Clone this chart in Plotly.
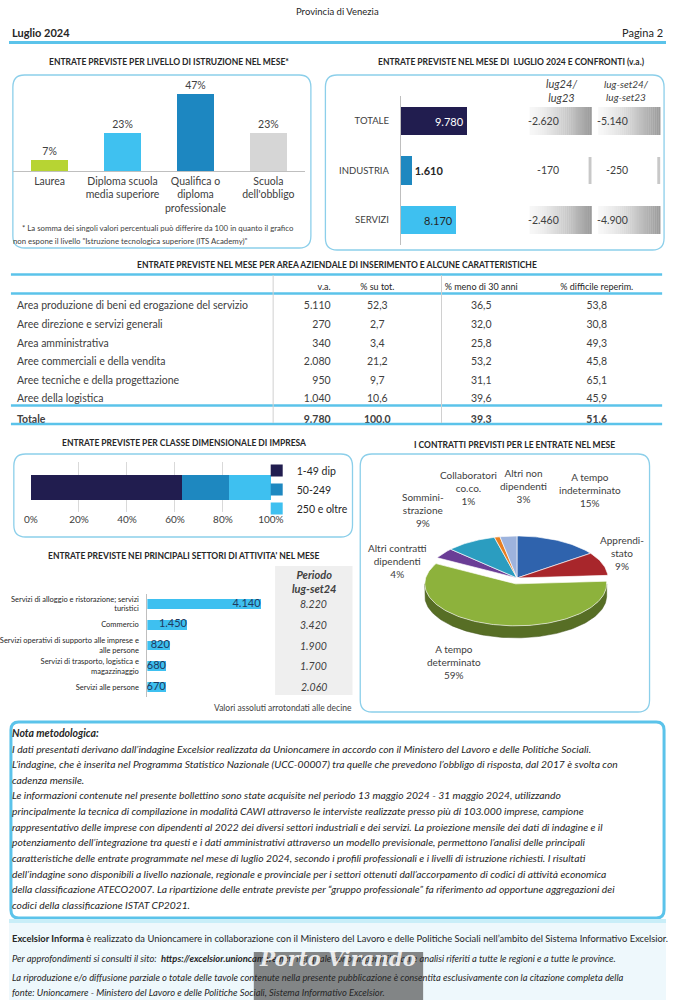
import math
import plotly.graph_objects as go

# ---------------- DATA ----------------
edu_cats = ["Laurea", "Diploma scuola<br>media superiore", "Qualifica o<br>diploma<br>professionale", "Scuola<br>dell'obbligo"]
edu_vals = [7, 23, 47, 23]

conf_cats = ["TOTALE", "INDUSTRIA", "SERVIZI"]
conf_vals = [9780, 1610, 8170]
conf_lug = [-2620, -170, -2460]
conf_lugset = [-5140, -250, -4900]

area_names = ["Area produzione di beni ed erogazione del servizio", "Aree direzione e servizi generali",
              "Area amministrativa", "Aree commerciali e della vendita",
              "Aree tecniche e della progettazione", "Aree della logistica"]
area_va = [5110, 270, 340, 2080, 950, 1040]
area_pct = [52.3, 2.7, 3.4, 21.2, 9.7, 10.6]
area_u30 = [36.5, 32.0, 25.8, 53.2, 31.1, 39.6]
area_diff = [53.8, 30.8, 49.3, 45.8, 65.1, 45.9]
tot_va, tot_pct, tot_u30, tot_diff = 9780, 100.0, 39.3, 51.6

size_classes = ["1-49 dip", "50-249", "250 e oltre"]
size_shares = [63, 19.5, 17.5]

contr_labels = ["A tempo<br>indeterminato", "Apprendi-<br>stato", "A tempo<br>determinato",
                "Altri contratti<br>dipendenti", "Sommini-<br>strazione", "Collaboratori<br>co.co.",
                "Altri non<br>dipendenti"]
contr_vals = [15, 9, 59, 4, 9, 1, 3]

sect_names = ["Servizi di alloggio e ristorazione; servizi<br>turistici", "Commercio",
              "Servizi operativi di supporto alle imprese e<br>alle persone",
              "Servizi di trasporto, logistica e<br>magazzinaggio", "Servizi alle persone"]
sect_month = [4140, 1450, 820, 680, 670]
sect_period = [8220, 3420, 1900, 1700, 2060]

# ---------------- STYLE HELPERS ----------------
W, H = 679, 1000
def px(x): return x / W
def py(y): return 1 - y / H

FONT = "Lato, 'Open Sans', sans-serif"
TXT = "#404040"
DARK = "#262626"
BOX = "#8ccfea"
NAVY, MID, LIGHT = "#211d4f", "#1e88c0", "#3ec0f0"

def it_int(v): return f"{v:,}".replace(",", ".")
def it_dec(v): return f"{v:.1f}".replace(".", ",")

fig = go.Figure()
shapes, ann = [], []

def P(x, y): return f"{px(x):.5f},{py(y):.5f}"

def rbox(x0, y0, x1, y1, r=12, color=BOX, width=1.3, fill="rgba(0,0,0,0)"):
    path = (f"M{P(x0+r,y0)} L{P(x1-r,y0)} Q{P(x1,y0)} {P(x1,y0+r)} L{P(x1,y1-r)} Q{P(x1,y1)} {P(x1-r,y1)} "
            f"L{P(x0+r,y1)} Q{P(x0,y1)} {P(x0,y1-r)} L{P(x0,y0+r)} Q{P(x0,y0)} {P(x0+r,y0)} Z")
    shapes.append(dict(type="path", path=path, xref="paper", yref="paper",
                       line=dict(color=color, width=width), fillcolor=fill, layer="below"))

def rect(x0, y0, x1, y1, fill, layer="below"):
    shapes.append(dict(type="rect", xref="paper", yref="paper", x0=px(x0), x1=px(x1), y0=py(y1), y1=py(y0),
                       fillcolor=fill, line=dict(width=0), layer=layer))

def hline(x0, x1, y, color, width, layer="above"):
    shapes.append(dict(type="line", xref="paper", yref="paper", x0=px(x0), x1=px(x1), y0=py(y), y1=py(y),
                       line=dict(color=color, width=width), layer=layer))

def vline(x, y0, y1, color, width, layer="above"):
    shapes.append(dict(type="line", xref="paper", yref="paper", x0=px(x), x1=px(x), y0=py(y0), y1=py(y1),
                       line=dict(color=color, width=width), layer=layer))

def txt(x, y, s, size=10, color=TXT, anchor="center", bold=False, italic=False, family=FONT):
    ann.append(dict(x=px(x), y=py(y), xref="paper", yref="paper", text=s, showarrow=False,
                    xanchor=anchor, yanchor="middle", align=anchor if anchor != "center" else "center",
                    font=dict(size=size, color=color, family=family,
                              weight="bold" if bold else "normal", style="italic" if italic else "normal")))

NB = "\u00a0"

# ---------------- HEADER ----------------
txt(339, 11, "Provincia di Venezia", 9.5, DARK)
txt(1, 32, "Luglio 2024", 11, DARK, anchor="left", bold=True)
txt(678, 32, "Pagina 2", 11, DARK, anchor="right")
hline(0, 679, 42.5, "#5bc3ea", 3)

titles = [("ENTRATE PREVISTE PER LIVELLO DI ISTRUZIONE NEL MESE*", 165, 62),
          (f"ENTRATE PREVISTE NEL MESE DI{NB} LUGLIO 2024 E CONFRONTI (v.a.)", 519, 62),
          ("ENTRATE PREVISTE NEL MESE PER AREA AZIENDALE DI INSERIMENTO E ALCUNE CARATTERISTICHE", 339, 265),
          ("ENTRATE PREVISTE PER CLASSE DIMENSIONALE DI IMPRESA", 181, 443),
          ("I CONTRATTI PREVISTI PER LE ENTRATE NEL MESE", 522, 445),
          ("ENTRATE PREVISTE NEI PRINCIPALI SETTORI DI ATTIVITA' NEL MESE", 181, 556)]
for t, x, y in titles:
    txt(x, y, t, 8.5, DARK, bold=True)

# ---------------- EDUCATION CHART ----------------
rbox(4, 75, 312, 248)
edu_colors = ["#b7d433", "#3fc1f0", "#1d87c1", "#d6d6d6"]
fig.add_trace(go.Bar(x=edu_cats, y=edu_vals, marker=dict(color=edu_colors, line=dict(width=0)), width=0.5,
                     text=[f"{v}%" for v in edu_vals], textposition="outside", cliponaxis=False,
                     textfont=dict(size=10.5, color=TXT, family=FONT),
                     xaxis="x", yaxis="y", showlegend=False, hoverinfo="skip"))
txt(11, 228, "* La somma dei singoli valori percentuali può differire da 100 in quanto il grafico", 7.8, TXT, anchor="left")
txt(2, 241, "non espone il livello \"Istruzione tecnologica superiore (ITS Academy)\"", 7.8, TXT, anchor="left")

# ---------------- CONFRONTI CHART ----------------
rbox(327, 75, 677, 250)
fig.add_trace(go.Bar(y=conf_cats, x=conf_vals, orientation="h", width=0.566,
                     marker=dict(color=[NAVY, MID, LIGHT], line=dict(width=0)),
                     text=[it_int(v) if i != 1 else f"<b>{it_int(v)}</b>" for i, v in enumerate(conf_vals)],
                     textposition=["inside", "outside", "inside"], insidetextanchor="end",
                     textfont=dict(size=11, color=["white", DARK, DARK], family=FONT), cliponaxis=False,
                     constraintext="none", xaxis="x2", yaxis="y2", showlegend=False, hoverinfo="skip"))
txt(571, 91, "<i>lug24/<br>lug23</i>", 11, TXT)
txt(638, 91, "<i>lug-set24/<br>lug-set23</i>", 10, TXT)
row_box = [True, False, True]
row_y = [(107, 135), (157, 184), (206, 234)]
for (bx0, bx1) in [(538, 602), (609, 673)]:
    for has, (y0, y1) in zip(row_box, row_y):
        if has:
            n = 32
            for k in range(n):
                f = k / (n - 1)
                c = int(247 - (247 - 155) * f ** 1.4)
                rect(bx0 + (bx1 - bx0) * k / n, y0, bx0 + (bx1 - bx0) * (k + 1) / n + 0.3, y1, f"rgb({c},{c},{c})")
        else:
            rect(bx1 - 3, y0, bx1, y1, "#c8c8c8")
for i, c in enumerate(conf_cats):
    ann.append(dict(x=px(571), y=c, xref="paper", yref="y2", text=it_int(conf_lug[i]), showarrow=False,
                    font=dict(size=10.5, color=TXT, family=FONT)))
    ann.append(dict(x=px(642), y=c, xref="paper", yref="y2", text=it_int(conf_lugset[i]), showarrow=False,
                    font=dict(size=10.5, color=TXT, family=FONT)))

# ---------------- TABLE ----------------
hdr = ["", "v.a.", "% su tot.", "% meno di 30 anni", "% difficile reperim."]
cols = [area_names + ["<b>Totale</b>"],
        [it_int(v) for v in area_va] + [f"<b>{it_int(tot_va)}</b>"],
        [it_dec(v) for v in area_pct] + [f"<b>{it_dec(tot_pct)}</b>"],
        [it_dec(v) for v in area_u30] + [f"<b>{it_dec(tot_u30)}</b>"],
        [it_dec(v) for v in area_diff] + [f"<b>{it_dec(tot_diff)}</b>"]]
fig.add_trace(go.Table(domain=dict(x=[0, px(660)], y=[py(445), py(275)]),
                       columnwidth=[273, 68, 80, 135, 104],
                       header=dict(values=hdr, align=["left", "right", "center", "center", "center"],
                                   font=dict(size=9, color=DARK, family=FONT), height=18.5,
                                   fill=dict(color="rgba(0,0,0,0)"), line=dict(color="rgba(0,0,0,0)", width=0)),
                       cells=dict(values=cols, align=["left", "right", "center", "center", "center"],
                                  font=dict(size=10.5, color=TXT, family=FONT), height=18.6,
                                  fill=dict(color="rgba(0,0,0,0)"), line=dict(color="rgba(0,0,0,0)", width=0))))
for y in (274.5, 293.5, 405.5, 424):
    hline(2, 675, y, "#5bc3ea", 2.5)
vline(273, 275, 423, "#d0d0d0", 1)
vline(447, 275, 423, "#d0d0d0", 1)

# ---------------- CLASSE DIMENSIONALE ----------------
rbox(5, 454, 355, 537)
for name, v, c in zip(size_classes, size_shares, [NAVY, MID, LIGHT]):
    fig.add_trace(go.Bar(x=[v], y=[0], orientation="h", name=name, width=0.5,
                         marker=dict(color=c, line=dict(width=0)), xaxis="x3", yaxis="y3",
                         hoverinfo="skip", showlegend=True))

# ---------------- CONTRATTI (3D-like pie) ----------------
rbox(363, 454, 662, 712)
CX, CY, RX, RY, DEPTH = 525, 578, 94, 42, 12
explode = [0, 0, 6, 0, 0, 0, 0]
top_cols = ["#2f63ad", "#a8262b", "#8db23c", "#6a3d96", "#2b9dc0", "#e67e22", "#9db3dd"]
def darker(h, f=0.62):
    h = h.lstrip("#"); r, g, b = int(h[0:2], 16), int(h[2:4], 16), int(h[4:6], 16)
    return f"rgb({int(r*f)},{int(g*f)},{int(b*f)})"
tot = sum(contr_vals)
cum = 0
slices = []
for i, v in enumerate(contr_vals):
    a0 = cum / tot * 360; cum += v; a1 = cum / tot * 360
    mid = math.radians((a0 + a1) / 2)
    dx, dy = explode[i] * math.sin(mid), -explode[i] * math.cos(mid)
    slices.append((a0, a1, dx, dy))
def arc(a0, a1, dx, dy, step=1.5):
    n = max(2, int((a1 - a0) / step) + 1)
    pts = []
    for k in range(n + 1):
        t = math.radians(a0 + (a1 - a0) * k / n)
        pts.append((CX + dx + RX * math.sin(t), CY + dy - RY * math.cos(t)))
    return pts
for i, (a0, a1, dx, dy) in enumerate(slices):
    s0, s1 = max(a0, 90), min(a1, 270)
    if s1 > s0:
        top = arc(s0, s1, dx, dy)
        bot = [(x, y + DEPTH) for x, y in reversed(top)]
        poly = top + bot + [top[0]]
        fig.add_trace(go.Scatter(x=[p[0] for p in poly], y=[p[1] for p in poly], fill="toself", mode="lines",
                                 fillcolor=darker(top_cols[i]), line=dict(color=darker(top_cols[i], 0.5), width=0.5),
                                 xaxis="x4", yaxis="y4", hoverinfo="skip", showlegend=False))
for i, (a0, a1, dx, dy) in enumerate(slices):
    pts = [(CX + dx, CY + dy)] + arc(a0, a1, dx, dy) + [(CX + dx, CY + dy)]
    fig.add_trace(go.Scatter(x=[p[0] for p in pts], y=[p[1] for p in pts], fill="toself", mode="lines",
                             fillcolor=top_cols[i], line=dict(color="rgba(255,255,255,0.8)", width=0.8),
                             xaxis="x4", yaxis="y4", hoverinfo="skip", showlegend=False))
contr_label_pos = [(600, 490), (634, 553), (460, 662), (402, 561), (428, 510), (475, 488), (532, 486)]
for lab, v, (x, y) in zip(contr_labels, contr_vals, contr_label_pos):
    txt(x, y, f"{lab}<br>{v}%", 10, TXT)

# ---------------- SETTORI ----------------
rect(275, 566, 355, 695, "#efefef")
txt(315, 581, "<b><i>Periodo<br>lug-set24</i></b>", 11, TXT)
fig.add_trace(go.Bar(y=sect_names, x=sect_month, orientation="h", width=0.48,
                     marker=dict(color=LIGHT, line=dict(width=0)),
                     xaxis="x5", yaxis="y5", showlegend=False, hoverinfo="skip"))
fig.add_trace(go.Scatter(y=sect_names, x=sect_month, mode="text", text=[it_int(v) for v in sect_month],
                         textposition="middle left", textfont=dict(size=11, color="#1f3a5f", family=FONT),
                         xaxis="x5", yaxis="y5", showlegend=False, hoverinfo="skip", cliponaxis=False))
for n, v in zip(sect_names, sect_period):
    ann.append(dict(x=px(315), y=n, xref="paper", yref="y5", text=f"<i>{it_int(v)}</i>", showarrow=False,
                    font=dict(size=10.5, color=TXT, family=FONT)))
txt(357, 708, "Valori assoluti arrotondati alle decine", 8.5, TXT, anchor="right")

# ---------------- NOTA METODOLOGICA ----------------
rbox(2, 722, 677, 918, r=8, color="#5bc3ea", width=3)
nota = ["I dati presentati derivano dall’indagine Excelsior realizzata da Unioncamere in accordo con il Ministero del Lavoro e delle Politiche Sociali.",
        "L’indagine, che è inserita nel Programma Statistico Nazionale (UCC-00007) tra quelle che prevedono l’obbligo di risposta, dal 2017 è svolta con",
        "cadenza mensile.",
        "Le informazioni contenute nel presente bollettino sono state acquisite nel periodo 13 maggio 2024 - 31 maggio 2024, utilizzando",
        "principalmente la tecnica di compilazione in modalità CAWI attraverso le interviste realizzate presso più di 103.000 imprese, campione",
        "rappresentativo delle imprese con dipendenti al 2022 dei diversi settori industriali e dei servizi. La proiezione mensile dei dati di indagine e il",
        "potenziamento dell’integrazione tra questi e i dati amministrativi attraverso un modello previsionale, permettono l’analisi delle principali",
        "caratteristiche delle entrate programmate nel mese di luglio 2024, secondo i profili professionali e i livelli di istruzione richiesti. I risultati",
        "dell’indagine sono disponibili a livello nazionale, regionale e provinciale per i settori ottenuti dall’accorpamento di codici di attività economica",
        "della classificazione ATECO2007. La ripartizione delle entrate previste per “gruppo professionale” fa riferimento ad opportune aggregazioni dei",
        "codici della classificazione ISTAT CP2021."]
txt(1, 733, "Nota metodologica:", 10.5, DARK, anchor="left", bold=True, italic=True)
for k, line in enumerate(nota):
    txt(1, 748.5 + k * 15.65, line, 10.3, DARK, anchor="left", italic=True)

# ---------------- FOOTER ----------------
rect(0, 922, 679, 1000, "#eef8fc")
rect(0, 919, 679, 923, "#c9eef8")
txt(1, 938, "<b>Excelsior Informa</b> è realizzato da Unioncamere in collaborazione con il Ministero del Lavoro e delle Politiche Sociali nell’ambito del Sistema Informativo Excelsior.", 9.4, DARK, anchor="left")
txt(1, 958, f"<i>Per approfondimenti si consulti il sito:{NB} <b>https://excelsior.unioncamere.net</b>{NB} nel quale sono disponibili dati e analisi riferiti a tutte le regioni e a tutte le province.</i>", 9.4, DARK, anchor="left")
txt(1, 977, "<i>La riproduzione e/o diffusione parziale o totale delle tavole contenute nella presente pubblicazione è consentita esclusivamente con la citazione completa della</i>", 9.4, DARK, anchor="left")
txt(1, 992, "<i>fonte: Unioncamere - Ministero del Lavoro e delle Politiche Sociali, Sistema Informativo Excelsior.</i>", 9.4, DARK, anchor="left")
rect(253, 952, 428, 1000, "rgba(100,100,100,0.78)", layer="above")
ann.append(dict(x=px(340), y=py(973), xref="paper", yref="paper", text="<b><i>Porto Virando</i></b>", showarrow=False,
                font=dict(size=20, color="rgba(255,255,255,0.85)", family="DejaVu Serif")))

# ---------------- LAYOUT ----------------
fig.update_layout(
    width=W, height=H, margin=dict(l=0, r=0, t=0, b=0), autosize=False,
    paper_bgcolor="white", plot_bgcolor="rgba(0,0,0,0)", barmode="stack", hovermode=False,
    font=dict(family=FONT, color=TXT),
    showlegend=True,
    legend=dict(x=px(256), y=py(456), xanchor="left", yanchor="top", traceorder="normal",
                font=dict(size=10.5, color=DARK, family=FONT), bgcolor="rgba(0,0,0,0)",
                itemclick=False, itemdoubleclick=False, tracegroupgap=0),
    xaxis=dict(domain=[px(4.25), px(305.75)], type="category", showline=True, linecolor="#bfbfbf", linewidth=1,
               ticks="", tickfont=dict(size=10.5, color=TXT), fixedrange=True, anchor="y"),
    yaxis=dict(domain=[py(171), py(89)], range=[0, 50], visible=False, fixedrange=True, anchor="x"),
    xaxis2=dict(domain=[px(405), px(535)], range=[0, 18700], visible=False, fixedrange=True, anchor="y2"),
    yaxis2=dict(domain=[py(244.75), py(96.25)], type="category", range=[2.5, -0.5], showline=True,
                linecolor="#bfbfbf", ticks="outside", ticklen=9, tickcolor="rgba(0,0,0,0)",
                tickfont=dict(size=9.5, color=TXT), fixedrange=True, anchor="x2"),
    xaxis3=dict(domain=[px(22.7), px(270.7)], range=[0, 100], dtick=20, ticksuffix="%", showgrid=True,
                gridcolor="#d9d9d9", zeroline=False, showline=False, tickfont=dict(size=10, color=TXT),
                fixedrange=True, anchor="y3"),
    yaxis3=dict(domain=[py(512), py(462)], range=[-0.5, 0.5], visible=False, fixedrange=True, anchor="x3"),
    xaxis4=dict(domain=[px(365), px(660)], range=[365, 660], visible=False, fixedrange=True, anchor="y4"),
    yaxis4=dict(domain=[py(705), py(460)], range=[705, 460], visible=False, fixedrange=True, anchor="x4"),
    xaxis5=dict(domain=[px(143), px(270)], range=[0, 4494], visible=False, fixedrange=True, anchor="y5"),
    yaxis5=dict(domain=[py(697.4), py(593.6)], type="category", range=[4.5, -0.5], showline=True,
                linecolor="#bfbfbf", ticks="outside", ticklen=6, tickcolor="rgba(0,0,0,0)",
                tickfont=dict(size=7.5, color=DARK), fixedrange=True, anchor="x5"),
    shapes=shapes, annotations=ann,
)
fig.write_html("out.html", config={"displayModeBar": False},
               post_script="document.body.style.margin='0';document.body.style.padding='0';document.documentElement.style.overflow='hidden';")
